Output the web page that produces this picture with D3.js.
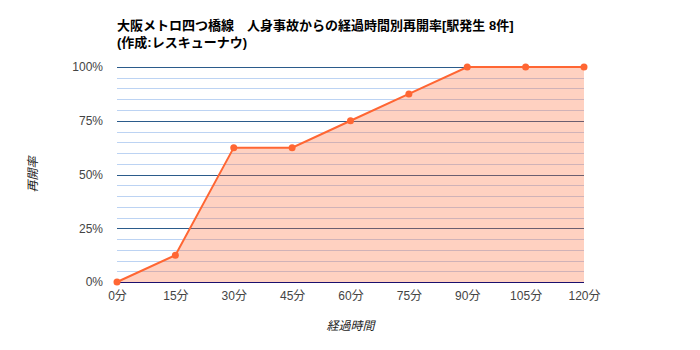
<!DOCTYPE html>
<html>
<head>
<meta charset="utf-8">
<script src="https://cdn.jsdelivr.net/npm/d3@7"></script>
<style>
  body { margin: 0; background: #fff; }
  text { font-family: Arial, "Liberation Sans", "Noto Sans CJK JP", sans-serif; }
</style>
</head>
<body>
<div id="chart"></div>
<script>
var minutes = [0, 15, 30, 45, 60, 75, 90, 105, 120];
var reopenRate = [0, 12.5, 62.5, 62.5, 75, 87.5, 100, 100, 100];
var yTicks = [0, 25, 50, 75, 100];
var titleLines = ["大阪メトロ四つ橋線　人身事故からの経過時間別再開率[駅発生 8件]", "(作成:レスキューナウ)"];

var svgW = 700;
var svgH = 350;

var margin = { top: 67, right: 116, bottom: 68, left: 117 };
var width = svgW - margin.left - margin.right;
var height = svgH - margin.top - margin.bottom;

var svg = d3.select("#chart")
  .append("svg")
  .attr("width", svgW)
  .attr("height", svgH);

var chartGroup = svg.append("g")
  .attr("transform", `translate(${margin.left}, ${margin.top})`);

var x = d3.scaleLinear().domain([0, 120]).range([0, width]);
var y = d3.scaleLinear().domain([0, 100]).range([height, 0]);

var data = minutes.map((m, i) => ({ m: m, v: reopenRate[i] }));

// minor gridlines every 5%
chartGroup.selectAll(".minor")
  .data(d3.range(5, 100, 5).filter(v => v % 25 !== 0))
  .enter().append("line")
  .attr("x1", 0).attr("x2", width)
  .attr("y1", d => Math.round(y(d)) + 0.5)
  .attr("y2", d => Math.round(y(d)) + 0.5)
  .attr("stroke", "#bcd3f3")
  .attr("stroke-width", 1);

// major gridlines
chartGroup.selectAll(".major")
  .data(yTicks.filter(v => v > 0))
  .enter().append("line")
  .attr("x1", 0).attr("x2", width)
  .attr("y1", d => Math.round(y(d)) + 0.5)
  .attr("y2", d => Math.round(y(d)) + 0.5)
  .attr("stroke", "#2b5b8b")
  .attr("stroke-width", 1);

// area
var area = d3.area()
  .x(d => x(d.m))
  .y0(height)
  .y1(d => y(d.v));

chartGroup.append("path")
  .datum(data)
  .attr("d", area)
  .attr("fill", "#ff6633")
  .attr("fill-opacity", 0.3);

// baseline
chartGroup.append("line")
  .attr("x1", 0).attr("x2", width)
  .attr("y1", height + 0.5).attr("y2", height + 0.5)
  .attr("stroke", "#1a0f6e")
  .attr("stroke-width", 1);

// line
var line = d3.line()
  .x(d => x(d.m))
  .y(d => y(d.v));

chartGroup.append("path")
  .datum(data)
  .attr("d", line)
  .attr("fill", "none")
  .attr("stroke", "#ff6633")
  .attr("stroke-width", 2);

chartGroup.selectAll(".pt")
  .data(data)
  .enter().append("circle")
  .attr("cx", d => x(d.m))
  .attr("cy", d => y(d.v))
  .attr("r", 3.5)
  .attr("fill", "#ff6633");

// axes
var leftAxis = d3.axisLeft(y)
  .tickValues(yTicks)
  .tickSize(0)
  .tickPadding(14)
  .tickFormat(d => d + "%");

var yAxis = chartGroup.append("g").call(leftAxis);
yAxis.select(".domain").remove();
yAxis.selectAll("text")
  .attr("fill", "#444")
  .attr("font-size", 12)
  .attr("font-family", "Arial, 'Liberation Sans', sans-serif");

var bottomAxis = d3.axisBottom(x)
  .tickValues(minutes)
  .tickSize(0)
  .tickPadding(9)
  .tickFormat(d => d + "分");

var xAxis = chartGroup.append("g")
  .attr("transform", `translate(0, ${height})`)
  .call(bottomAxis);
xAxis.select(".domain").remove();
xAxis.selectAll("text")
  .attr("fill", "#444")
  .attr("font-size", 12)
  .attr("font-family", "Arial, 'Liberation Sans', 'Noto Sans CJK JP', sans-serif");

// titles
svg.selectAll(".title")
  .data(titleLines)
  .enter().append("text")
  .attr("x", margin.left)
  .attr("y", (d, i) => 30 + i * 17)
  .attr("font-size", 13)
  .attr("font-weight", "bold")
  .attr("fill", "#000")
  .text(d => d);

svg.append("text")
  .attr("x", margin.left + width / 2)
  .attr("y", 330)
  .attr("text-anchor", "middle")
  .attr("font-size", 12)
  .attr("font-style", "italic")
  .attr("fill", "#222")
  .text("経過時間");

svg.append("text")
  .attr("transform", `translate(37, ${margin.top + height / 2}) rotate(-90)`)
  .attr("text-anchor", "middle")
  .attr("font-size", 12)
  .attr("font-style", "italic")
  .attr("fill", "#222")
  .text("再開率");
</script>
</body>
</html>
